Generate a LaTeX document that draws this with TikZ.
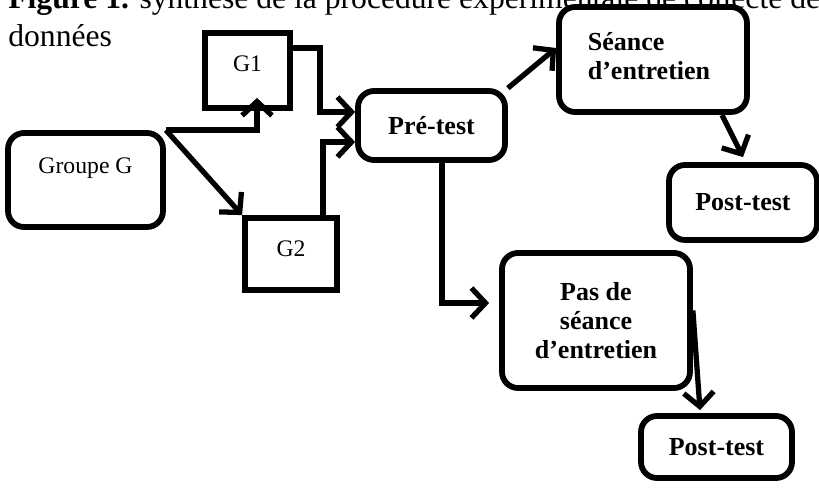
\documentclass[tikz,border=0pt]{standalone}
\usepackage{fontspec}
\setmainfont{Liberation Serif}
\usepackage{tikz}
\usetikzlibrary{positioning, arrows.meta, calc}

\begin{document}
\begin{tikzpicture}[
    x=0.02cm, y=-0.02cm,
    box/.style={draw=black, line width=3.3pt, minimum width=#1, inner sep=0pt},
    rbox/.style={box=#1, rounded corners=0.32cm},
    grp/.style={font=\fontsize{13.5}{16}\selectfont},
    step label/.style={font=\fontsize{14.8}{16.5}\selectfont\bfseries, align=center},
    arr/.style={line width=3pt, -{Straight Barb[length=8pt, width=17pt, line width=3pt]}},
    title/.style={font=\fontsize{18}{22}\selectfont, anchor=base west, inner sep=0pt}
]
\useasboundingbox (0,0) rectangle (819,489);

% Title (cut at the top)
\node[title] (title1) at (8,9) {\textbf{Figure 1.} synthèse de la procédure expérimentale de collecte des};
\node[title] (title2) at (8,47) {données};

% Groups
\node[rbox=3.1cm, minimum height=1.88cm] (groupe) at (85.5,180) {};
\node[grp] (groupeT) at ($(groupe.center)+(0,-12)$) {Groupe G};
\node[box=1.7cm, minimum height=1.5cm] (g1) at (247.5,70.5) {};
\node[grp] (g1T) at ($(g1.center)+(0,-7)$) {G1};
\node[box=1.84cm, minimum height=1.44cm] (g2) at (291,254) {};
\node[grp] (g2T) at ($(g2.center)+(0,-5)$) {G2};

% Tests and sessions
\node[rbox=2.94cm, minimum height=1.38cm, step label] (pre) at (431.5,125.5) {Pré-test};
\node[rbox=3.76cm, minimum height=2.1cm] (seance) at (653,59.5) {};
\node[step label, align=left] (seanceT) at ($(seance.center)+(-4,-3)$) {Séance\\d’entretien};
\node[rbox=2.96cm, minimum height=1.5cm, step label] (post1) at (743,202.5) {Post-test};
\node[rbox=3.76cm, minimum height=2.7cm, step label] (pas) at (596,320.5) {Pas de\\séance\\d’entretien};
\node[rbox=3.02cm, minimum height=1.24cm, step label] (post2) at (716.5,447) {Post-test};

% Connectors
\draw[arr] (groupe.north east) -| ([xshift=0.19cm, yshift=0.26cm]g1.south);
\draw[arr] (groupe.north east) -- (g2.north west);
\draw[arr] ([yshift=0.45cm]g1.east) -| ([xshift=-0.7cm, yshift=0.27cm]pre.west) -- ([yshift=0.27cm]pre.west);
\draw[arr] ([xshift=0.64cm]g2.north) |- ([yshift=-0.33cm]pre.west);
\draw[arr] (pre.north east) -- ([yshift=0.23cm]seance.west);
\draw[arr] ([xshift=1.38cm]seance.south) -- ([xshift=0cm, yshift=0.1cm]post1.north);
\draw[arr, shorten >=0.2cm] ([xshift=0.21cm]pre.south) |- ([yshift=0.35cm]pas.west);
\draw[arr] ([yshift=0.2cm]pas.east) -- ([xshift=-0.33cm, yshift=0.06cm]post2.north);

\end{tikzpicture}
\end{document}
